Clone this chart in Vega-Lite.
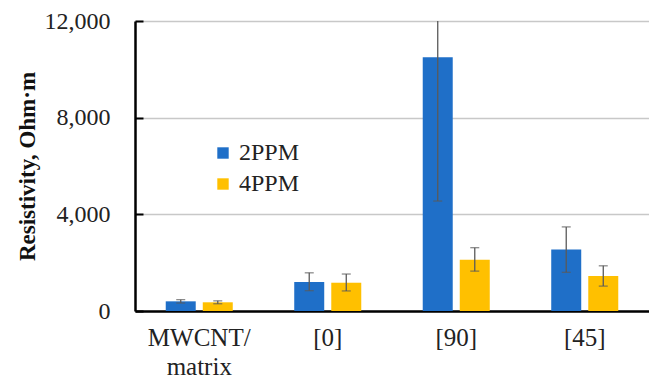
{
  "$schema": "https://vega.github.io/schema/vega-lite/v6.json",
  "width": 514,
  "height": 290,
  "autosize": "none",
  "padding": {"left": 135, "top": 21, "right": 0, "bottom": 70},
  "background": "white",
  "config": {
    "font": "Liberation Serif",
    "view": {"stroke": null}
  },
  "data": {
    "values": [
      {"sample": "MWCNT/matrix", "series": "2PPM", "value": 400, "lo": 330, "hi": 470},
      {"sample": "MWCNT/matrix", "series": "4PPM", "value": 360, "lo": 300, "hi": 420},
      {"sample": "[0]", "series": "2PPM", "value": 1200, "lo": 840, "hi": 1580},
      {"sample": "[0]", "series": "4PPM", "value": 1170, "lo": 830, "hi": 1530},
      {"sample": "[90]", "series": "2PPM", "value": 10500, "lo": 4550, "hi": 16450},
      {"sample": "[90]", "series": "4PPM", "value": 2120, "lo": 1650, "hi": 2620},
      {"sample": "[45]", "series": "2PPM", "value": 2540, "lo": 1600, "hi": 3480},
      {"sample": "[45]", "series": "4PPM", "value": 1450, "lo": 1030, "hi": 1870}
    ]
  },
  "encoding": {
    "x": {
      "field": "sample",
      "type": "nominal",
      "sort": ["MWCNT/matrix", "[0]", "[90]", "[45]"],
      "scale": {"paddingInner": 0, "paddingOuter": 0},
      "axis": {
        "title": null,
        "labelAngle": 0,
        "labelFont": "Liberation Serif",
        "labelFontSize": 25,
        "labelColor": "#222",
        "labelPadding": 14,
        "ticks": false,
        "domainColor": "#000",
        "domainWidth": 2.5,
        "labelExpr": "datum.value == 'MWCNT/matrix' ? ['MWCNT/', 'matrix'] : datum.value",
        "labelLineHeight": 29
      }
    },
    "xOffset": {
      "field": "series",
      "type": "nominal",
      "scale": {"paddingInner": 0.19, "paddingOuter": 0.83}
    }
  },
  "layer": [
    {
      "mark": {"type": "bar"},
      "encoding": {
        "y": {
          "field": "value",
          "type": "quantitative",
          "scale": {"domain": [0, 12000], "nice": false},
          "axis": {
            "title": "Resistivity, Ohm·m",
            "titleFont": "Liberation Serif",
            "titleFontSize": 23,
            "titleFontWeight": "bold",
            "titleColor": "#111",
            "titlePadding": 5,
            "values": [0, 4000, 8000, 12000],
            "format": ",d",
            "labelFont": "Liberation Serif",
            "labelFontSize": 24,
            "labelColor": "#222",
            "labelPadding": 33,
            "tickSize": -8,
            "tickColor": "#000",
            "tickWidth": 2,
            "domainColor": "#000",
            "domainWidth": 2.5,
            "grid": true,
            "gridColor": "#c8c8c8",
            "gridWidth": 1.5
          }
        },
        "color": {
          "field": "series",
          "type": "nominal",
          "scale": {"domain": ["2PPM", "4PPM"], "range": ["#1f6fc8", "#ffc000"]},
          "legend": {
            "title": null,
            "orient": "none",
            "legendX": 76,
            "legendY": 120,
            "symbolType": "square",
            "symbolSize": 130,
            "symbolStrokeWidth": 0,
            "labelFont": "Liberation Serif",
            "labelFontSize": 24,
            "labelColor": "#222",
            "rowPadding": 7,
            "labelOffset": 4
          }
        }
      }
    },
    {
      "mark": {"type": "rule", "color": "#5a5a5a", "strokeWidth": 1.3, "clip": true},
      "encoding": {
        "y": {"field": "lo", "type": "quantitative"},
        "y2": {"field": "hi"}
      }
    },
    {
      "mark": {"type": "tick", "color": "#5a5a5a", "thickness": 1.3, "size": 9, "clip": true},
      "encoding": {
        "y": {"field": "lo", "type": "quantitative"}
      }
    },
    {
      "mark": {"type": "tick", "color": "#5a5a5a", "thickness": 1.3, "size": 9, "clip": true},
      "encoding": {
        "y": {"field": "hi", "type": "quantitative"}
      }
    }
  ]
}
